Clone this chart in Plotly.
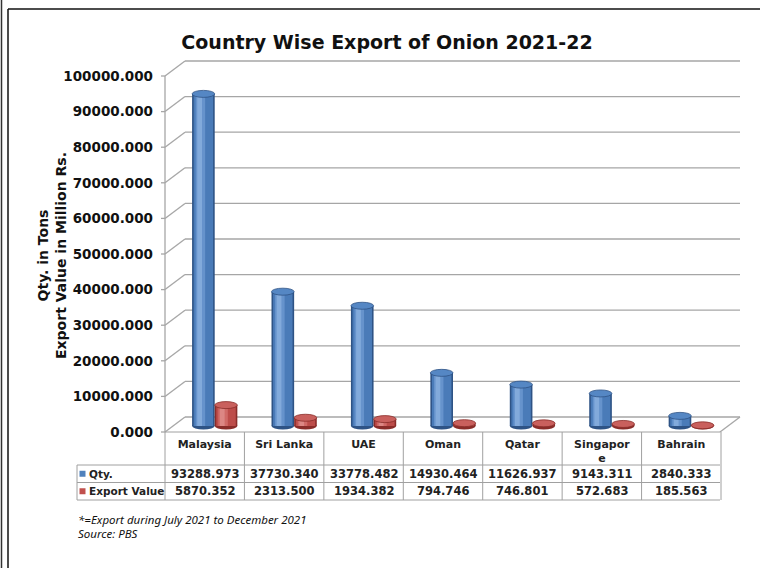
import plotly.graph_objects as go

# ---------------- data ----------------
countries = ["Malaysia", "Sri Lanka", "UAE", "Oman", "Qatar", "Singapore", "Bahrain"]
header_labels = ["Malaysia", "Sri Lanka", "UAE", "Oman", "Qatar", "Singapor<br>e", "Bahrain"]
qty = [93288.973, 37730.340, 33778.482, 14930.464, 11626.937, 9143.311, 2840.333]
export_value = [5870.352, 2313.500, 1934.382, 794.746, 746.801, 572.683, 185.563]
series_names = ["Qty.", "Export Value"]
y_ticks = [0, 10000, 20000, 30000, 40000, 50000, 60000, 70000, 80000, 90000, 100000]

title_text = "Country Wise Export of Onion 2021-22"
y_title = "Qty. in Tons<br>Export Value in Million Rs."
footnotes = ["*=Export during July 2021 to December 2021", "Source: PBS"]

# ---------------- style / geometry (pixels) ----------------
W, H = 760, 568
PX0, PX1 = 175, 731       # bar-plane left/right (categories -0.5 .. 6.5)
PY0, PY1 = 70, 426        # bar-plane top (100000) / bottom (0)
YMAX = 100000
CAT_PX = (PX1 - PX0) / 7  # px per category
PPU = (PY1 - PY0) / YMAX  # px per y unit
EXT_L, EXT_R, EXT_T, EXT_B = 16, 12, 14, 10   # plot-area extension (px) so decorations are not clipped
BW = 0.285                # bar width (category units)
GRID = "#A6A6A6"
TGRID = "#A0A0A0"
FONT = "DejaVu Sans"
TXT = "#222222"
BLUE, RED = "#4F81BD", "#C0504D"
CLEAR = "rgba(0,0,0,0)"
# data-table rows (px)
T_TOP, T_R1, T_R2, T_BOT = 432, 465, 482.5, 500
T_LEFT, T_RIGHT = 77, 720

blue = dict(dark="#2E5385", mid="#4A7BB8", light="#6693CC", lightest="#82AADB", cap="#5587C4")
red = dict(dark="#8A2D2A", mid="#BD4D4A", light="#D06A67", lightest="#DC8784", cap="#C9605D")


def fx(px):
    return px / W


def fy(py):
    return 1 - py / H


def dx(px):
    return px / CAT_PX


def dy(px):
    return px / PPU


fig = go.Figure()


def add_cylinder(values, offset, pal, name):
    layers = [
        (offset, BW, pal["dark"]),
        (offset + 0.02, BW - 0.04, pal["mid"]),
        (offset + 0.045, 0.12, pal["light"]),
        (offset + 0.065, 0.06, pal["lightest"]),
    ]
    for o, w, c in layers:
        fig.add_trace(go.Bar(
            x=countries, y=values, name=name, offset=o, width=w,
            marker=dict(color=c, line=dict(width=0)),
            showlegend=False, hoverinfo="x+y",
        ))


add_cylinder(qty, -BW, blue, series_names[0])
add_cylinder(export_value, 0.0, red, series_names[1])

LEFT, RIGHT = -0.5, 6.5
line_style = dict(color=GRID, width=1.3)
shapes = []
for v in y_ticks:
    # back-wall gridline (back plane: 9px up, 10px right of the bar plane)
    shapes.append(dict(type="line", xref="x", yref="y", layer="below", line=line_style,
                       x0=LEFT + dx(10), x1=RIGHT + dx(9), y0=v + dy(9), y1=v + dy(9)))
    # diagonal from front axis to back wall
    shapes.append(dict(type="line", xref="x", yref="y", layer="below", line=line_style,
                       x0=LEFT - dx(10), x1=LEFT + dx(10), y0=v - dy(6), y1=v + dy(9)))
    # short outer tick
    shapes.append(dict(type="line", xref="x", yref="y", layer="below", line=line_style,
                       x0=LEFT - dx(14), x1=LEFT - dx(10), y0=v - dy(6), y1=v - dy(6)))
# front vertical axis line
shapes.append(dict(type="line", xref="x", yref="y", layer="below", line=line_style,
                   x0=LEFT - dx(10), x1=LEFT - dx(10), y0=-dy(6), y1=YMAX - dy(6)))
# right floor diagonal
shapes.append(dict(type="line", xref="x", yref="y", layer="below", line=line_style,
                   x0=RIGHT - dx(11), x1=RIGHT + dx(9), y0=-dy(6), y1=dy(9)))

# cylinder bottoms and tops
for i, (q, e) in enumerate(zip(qty, export_value)):
    for val, off, pal in ((q, -BW, blue), (e, 0.0, red)):
        shapes.append(dict(type="circle", xref="x", x0=i + off, x1=i + off + BW,
                           yref="y", ysizemode="pixel", yanchor=0, y0=-3.5, y1=3.5,
                           fillcolor=pal["dark"], line=dict(width=0), layer="below"))
        shapes.append(dict(type="circle", xref="x", x0=i + off, x1=i + off + BW,
                           yref="y", ysizemode="pixel", yanchor=val, y0=-3.5, y1=3.5,
                           fillcolor=pal["cap"], line=dict(color=pal["dark"], width=0.8)))

# ---------------- data table (grid) ----------------
tline = dict(color=TGRID, width=1)
# front floor edge / header top
shapes.append(dict(type="line", xref="x", yref="paper", line=tline,
                   x0=LEFT - dx(10), x1=RIGHT - dx(11), y0=fy(T_TOP), y1=fy(T_TOP)))
for py in (T_R1, T_R2, T_BOT):
    shapes.append(dict(type="line", xref="paper", yref="paper", line=tline,
                       x0=fx(T_LEFT), x1=fx(T_RIGHT), y0=fy(py), y1=fy(py)))
shapes.append(dict(type="line", xref="paper", yref="paper", line=tline,
                   x0=fx(T_LEFT), x1=fx(T_LEFT), y0=fy(T_R1), y1=fy(T_BOT)))
for k in range(len(countries) + 1):
    xb = LEFT + k - dx(10)
    shapes.append(dict(type="line", xref="x", yref="paper", line=tline,
                       x0=xb, x1=xb, y0=fy(T_TOP), y1=fy(T_BOT)))

# legend keys inside the data table
row_centers = [(T_R1 + T_R2) / 2, (T_R2 + T_BOT) / 2]
for py, col in zip(row_centers, (BLUE, RED)):
    shapes.append(dict(type="rect", xref="paper", yref="paper",
                       x0=fx(79.5), x1=fx(85.5), y0=fy(py + 3), y1=fy(py - 3),
                       fillcolor=col, line=dict(width=0)))

# outer frame
shapes += [
    dict(type="line", xref="paper", yref="paper", x0=fx(1.5), x1=fx(1.5), y0=0, y1=1,
         line=dict(color="#333333", width=1.5)),
    dict(type="line", xref="paper", yref="paper", x0=fx(8), x1=fx(8), y0=0, y1=fy(9),
         line=dict(color="#111111", width=1.5)),
    dict(type="line", xref="paper", yref="paper", x0=fx(8), x1=1, y0=fy(9), y1=fy(9),
         line=dict(color="#111111", width=1.5)),
]

# ---------------- annotations ----------------
annotations = [
    dict(text="<b>" + y_title + "</b>", xref="paper", yref="paper",
         x=fx(52), y=fy(256), xanchor="center", yanchor="middle",
         textangle=-90, showarrow=False,
         font=dict(family=FONT, size=14, color="#111111")),
]
for j, txt in enumerate(footnotes):
    annotations.append(dict(text="<i>" + txt + "</i>", xref="paper", yref="paper",
                            x=fx(76), y=fy(519 + 14.5 * j), xanchor="left", yanchor="middle",
                            showarrow=False,
                            font=dict(family="Noto Sans", size=11.5, color="#111111")))
# table row labels
for py, name in zip(row_centers, series_names):
    annotations.append(dict(text="<b>" + name + "</b>", xref="paper", yref="paper",
                            x=fx(86.5), y=fy(py), xanchor="left", yanchor="middle",
                            showarrow=False,
                            font=dict(family=FONT, size=10.5, color=TXT)))
# table values, placed per category on the x axis
for row_vals, py in zip((qty, export_value), row_centers):
    for c, v in zip(countries, row_vals):
        annotations.append(dict(text=f"<b>{v:.3f}</b>", xref="x", yref="paper",
                                x=c, xshift=-10, y=fy(py), xanchor="center", yanchor="middle",
                                showarrow=False,
                                font=dict(family=FONT, size=11.5, color=TXT)))

fig.update_layout(
    width=W, height=H,
    margin=dict(l=0, r=0, t=0, b=0, pad=0, autoexpand=False),
    paper_bgcolor="white", plot_bgcolor=CLEAR,
    barmode="overlay",
    showlegend=False,
    title=dict(text="<b>" + title_text + "</b>", x=fx(387), xanchor="center",
               y=fy(42), yanchor="middle",
               font=dict(family=FONT, size=19, color="#111111")),
    xaxis=dict(domain=[fx(PX0 - EXT_L), fx(PX1 + EXT_R)],
               range=[LEFT - dx(EXT_L), RIGHT + dx(EXT_R)],
               tickvals=countries, ticktext=["<b>" + t + "</b>" for t in header_labels],
               tickfont=dict(family=FONT, size=11, color=TXT),
               ticklabelshift=-10, ticklabelstandoff=0,
               showgrid=False, zeroline=False, showline=False, ticks="", automargin=False),
    yaxis=dict(domain=[fy(PY1 + EXT_B), fy(PY0 - EXT_T)],
               range=[-dy(EXT_B), YMAX + dy(EXT_T)], tickvals=y_ticks,
               tickformat=".3f", automargin=False,
               showgrid=False, zeroline=False, showline=False, ticks="",
               ticklabelstandoff=5, ticklabelshift=6,
               tickfont=dict(family=FONT, size=13.5, color="#111111", weight="bold")),
    shapes=shapes,
    annotations=annotations,
)

fig.write_html("out.html", config={"displayModeBar": False},
               post_script="document.body.style.margin='0px';")
